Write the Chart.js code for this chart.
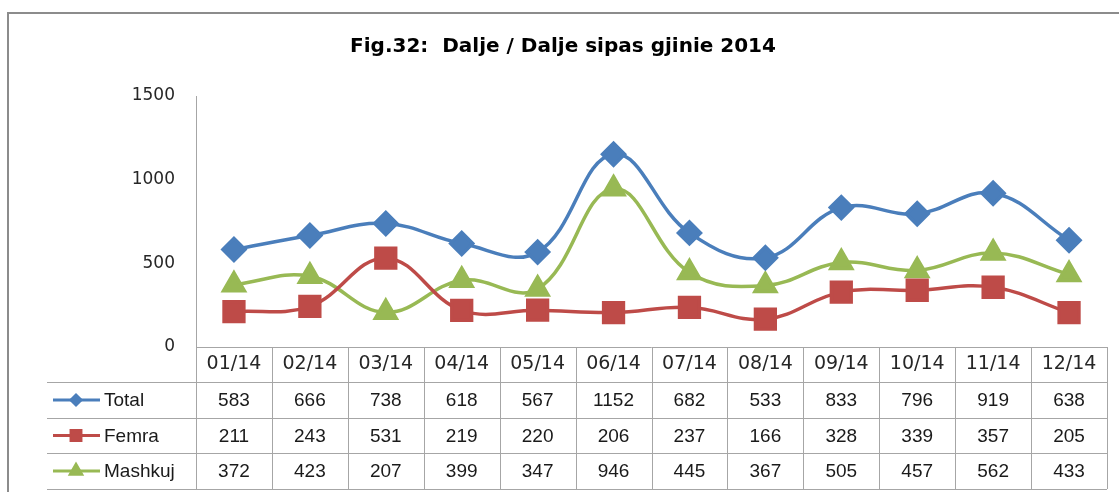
<!DOCTYPE html>
<html lang="sq">
<head>
    <meta charset="UTF-8">
    <title>Fig.32: Dalje / Dalje sipas gjinie 2014</title>
    <script src="https://cdn.jsdelivr.net/npm/chart.js"></script>
    <style>
        body {
            margin: 0;
            padding: 0;
            background-color: #fff;
        }
        #chart-box {
            width: 1119px;
            height: 492px;
        }
    </style>
</head>
<body>
    <div id="chart-box">
        <canvas id="dalje-chart"></canvas>
    </div>

    <script>
        // Data
        const months = ['01/14', '02/14', '03/14', '04/14', '05/14', '06/14', '07/14', '08/14', '09/14', '10/14', '11/14', '12/14'];
        const total = [583, 666, 738, 618, 567, 1152, 682, 533, 833, 796, 919, 638];
        const femra = [211, 243, 531, 219, 220, 206, 237, 166, 328, 339, 357, 205];
        const mashkuj = [372, 423, 207, 399, 347, 946, 445, 367, 505, 457, 562, 433];
        const yTicks = [0, 500, 1000, 1500];

        const titleText = 'Fig.32:  Dalje / Dalje sipas gjinie 2014';
        const gridColor = '#a6a6a6';

        // Frame + title + data table drawn around the plot
        const tablePlugin = {
            id: 'dataTable',
            beforeDraw(chart) {
                const ctx = chart.ctx;
                ctx.save();
                ctx.strokeStyle = '#8c8c8c';
                ctx.lineWidth = 2;
                ctx.beginPath();
                ctx.moveTo(8, 500);
                ctx.lineTo(8, 13);
                ctx.lineTo(1130, 13);
                ctx.stroke();

                ctx.fillStyle = '#000';
                ctx.font = 'bold 20px "DejaVu Sans", sans-serif';
                ctx.textAlign = 'center';
                ctx.textBaseline = 'middle';
                ctx.fillText(titleText, 563, 47);
                ctx.restore();
            },
            afterDraw(chart) {
                const ctx = chart.ctx;
                const x = chart.scales.x;
                const area = chart.chartArea;
                const colW = (area.right - area.left) / months.length;
                const headTop = area.bottom;
                const rowLines = [headTop, 382, 418, 453, 489];
                const rows = [
                    { label: 'Total', data: total, ds: chart.data.datasets[0], r: 5 },
                    { label: 'Femra', data: femra, ds: chart.data.datasets[1], r: 7 },
                    { label: 'Mashkuj', data: mashkuj, ds: chart.data.datasets[2], r: 6.5 }
                ];

                ctx.save();
                ctx.strokeStyle = gridColor;
                ctx.lineWidth = 1;

                // horizontal lines
                ctx.beginPath();
                ctx.moveTo(area.left, headTop + 0.5);
                ctx.lineTo(area.right, headTop + 0.5);
                for (let i = 1; i < rowLines.length; i++) {
                    ctx.moveTo(47, rowLines[i] + 0.5);
                    ctx.lineTo(area.right, rowLines[i] + 0.5);
                }
                // vertical lines
                for (let c = 0; c <= months.length; c++) {
                    const lx = Math.round(area.left + c * colW) + 0.5;
                    ctx.moveTo(lx, headTop);
                    ctx.lineTo(lx, rowLines[rowLines.length - 1]);
                }
                ctx.stroke();

                // header labels
                ctx.fillStyle = '#262626';
                ctx.textAlign = 'center';
                ctx.textBaseline = 'middle';
                ctx.font = '19px "DejaVu Sans", sans-serif';
                months.forEach((m, i) => {
                    ctx.fillText(m, x.getPixelForValue(i), 364);
                });

                // rows
                rows.forEach((row, r) => {
                    const cy = (rowLines[r + 1] + rowLines[r + 2]) / 2;
                    ctx.strokeStyle = row.ds.borderColor;
                    ctx.lineWidth = 3;
                    ctx.beginPath();
                    ctx.moveTo(53, cy);
                    ctx.lineTo(100, cy);
                    ctx.stroke();
                    ctx.fillStyle = row.ds.borderColor;
                    Chart.helpers.drawPoint(ctx, {
                        pointStyle: row.ds.pointStyle,
                        radius: row.r,
                        rotation: 0,
                        borderWidth: 1
                    }, 76, cy);
                    ctx.fill();

                    ctx.fillStyle = '#1a1a1a';
                    ctx.font = '19px "Liberation Sans", Arial, sans-serif';
                    ctx.textAlign = 'left';
                    ctx.fillText(row.label, 104, cy + 1);
                    ctx.textAlign = 'center';
                    row.data.forEach((v, i) => {
                        ctx.fillText(String(v), x.getPixelForValue(i), cy + 1);
                    });
                });
                ctx.restore();
            }
        };

        const ctx = document.getElementById('dalje-chart').getContext('2d');
        const daljeChart = new Chart(ctx, {
            type: 'line',
            data: {
                labels: months,
                datasets: [{
                    label: 'Total',
                    data: total,
                    borderColor: '#4a7ebb',
                    backgroundColor: '#4a7ebb',
                    pointStyle: 'rectRot',
                    pointRadius: 11,
                    borderWidth: 3.5,
                    tension: 0.4
                }, {
                    label: 'Femra',
                    data: femra,
                    borderColor: '#be4b48',
                    backgroundColor: '#be4b48',
                    pointStyle: 'rect',
                    pointRadius: 14,
                    borderWidth: 3.5,
                    tension: 0.4
                }, {
                    label: 'Mashkuj',
                    data: mashkuj,
                    borderColor: '#98b954',
                    backgroundColor: '#98b954',
                    pointStyle: 'triangle',
                    pointRadius: 12,
                    borderWidth: 3.5,
                    tension: 0.4
                }]
            },
            options: {
                responsive: true,
                maintainAspectRatio: false,
                animation: false,
                layout: {
                    autoPadding: false,
                    padding: { top: 96, right: 12, bottom: 145, left: 0 }
                },
                plugins: {
                    legend: { display: false },
                    title: { display: false },
                    tooltip: { enabled: false }
                },
                scales: {
                    x: {
                        display: false,
                        offset: true
                    },
                    y: {
                        min: 0,
                        max: 1500,
                        afterFit(scale) { scale.width = 196; },
                        afterBuildTicks(scale) {
                            scale.ticks = yTicks.map(v => ({ value: v }));
                        },
                        grid: { display: false, drawTicks: false },
                        border: { display: true, color: gridColor, width: 1 },
                        ticks: {
                            padding: 21,
                            color: '#262626',
                            font: { family: '"DejaVu Sans", sans-serif', size: 17 },
                            callback: v => String(v)
                        }
                    }
                }
            },
            plugins: [tablePlugin]
        });
    </script>
</body>
</html>
